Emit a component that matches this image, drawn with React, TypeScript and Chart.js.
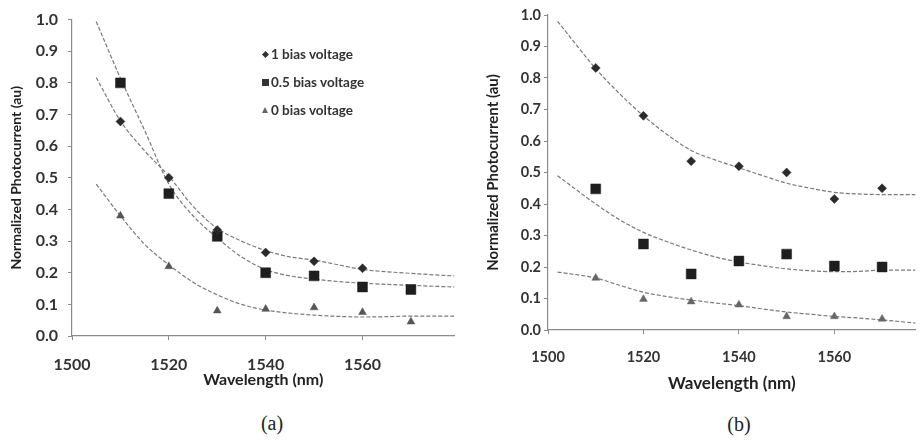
import React, { useEffect, useRef } from 'react';
import { Chart, registerables } from 'chart.js';

Chart.register(...registerables);

// ---------- data ----------
const wavelengths = [1510, 1520, 1530, 1540, 1550, 1560, 1570];

// panel (a) measured points
const aBias1 = [0.678, 0.5, 0.335, 0.264, 0.236, 0.214, null];
const aBias05 = [0.8, 0.45, 0.315, 0.2, 0.19, 0.155, 0.147];
const aBias0 = [0.38, 0.22, 0.08, 0.085, 0.09, 0.075, 0.045];

// panel (a) trend lines
const aFitX = [1505, 1510, 1515, 1520, 1525, 1530, 1535, 1540, 1545, 1550, 1555, 1560, 1565, 1570, 1575, 1579];
const aFit1 = [0.817, 0.68, 0.585, 0.505, 0.41, 0.34, 0.3, 0.27, 0.25, 0.24, 0.225, 0.21, 0.203, 0.198, 0.193, 0.19];
const aFit05 = [0.994, 0.815, 0.65, 0.48, 0.38, 0.31, 0.25, 0.21, 0.19, 0.18, 0.172, 0.167, 0.163, 0.16, 0.157, 0.155];
const aFit0 = [0.48, 0.38, 0.29, 0.225, 0.17, 0.13, 0.1, 0.082, 0.072, 0.066, 0.062, 0.06, 0.061, 0.063, 0.063, 0.063];

// panel (b) measured points
const bBias1 = [0.832, 0.68, 0.536, 0.52, 0.5, 0.416, 0.45];
const bBias05 = [0.448, 0.273, 0.178, 0.219, 0.241, 0.203, 0.2];
const bBias0 = [0.165, 0.098, 0.09, 0.08, 0.043, 0.043, 0.035];

// panel (b) trend lines
const bFitX = [1502, 1510, 1515, 1520, 1525, 1530, 1535, 1540, 1545, 1550, 1555, 1560, 1565, 1570, 1577];
const bFit1 = [0.98, 0.83, 0.75, 0.68, 0.62, 0.57, 0.54, 0.515, 0.49, 0.466, 0.45, 0.437, 0.432, 0.43, 0.43];
const bFit05 = [0.49, 0.4, 0.35, 0.31, 0.28, 0.254, 0.232, 0.216, 0.204, 0.194, 0.188, 0.185, 0.186, 0.19, 0.19];
const bFit0 = [0.184, 0.165, 0.142, 0.12, 0.106, 0.095, 0.086, 0.077, 0.067, 0.057, 0.05, 0.043, 0.038, 0.032, 0.022];

const legendLabels = ['1 bias voltage', '0.5 bias voltage', '0 bias voltage'];
const xTitle = 'Wavelength (nm)';
const yTitle = 'Normalized Photocurrent (au)';

// ---------- helpers ----------
const pts = (xs: number[], ys: (number | null)[]) =>
  xs.map((x, i) => ({ x, y: ys[i] })).filter((p) => p.y !== null);

const fitDs = (xs: number[], ys: number[]) => ({
  type: 'line' as const,
  data: pts(xs, ys),
  showLine: true,
  borderColor: '#7a7a7a',
  borderWidth: 1.2,
  borderDash: [4, 2],
  pointRadius: 0,
  cubicInterpolationMode: 'monotone' as const,
  fill: false,
  order: 2,
});

const markDs = (ys: (number | null)[], style: string, r: number, color: string) => ({
  type: 'scatter' as const,
  data: pts(wavelengths, ys),
  pointStyle: style,
  pointRadius: r,
  pointBackgroundColor: color,
  pointBorderColor: color,
  pointBorderWidth: 0.5,
  showLine: false,
  order: 1,
});

interface PanelProps {
  left: number;
  width: number;
  height: number;
  xMax: number;
  chartLeft: number;
  chartBottom: number;
  pad: { left: number; top: number; right: number; bottom: number };
  tickSize: number;
  yTickPad: number;
  xTickPad: number;
  xTitleSize: number;
  yTitleSize: number;
  datasets: any[];
}

function Panel(p: PanelProps) {
  const ref = useRef<HTMLCanvasElement | null>(null);
  useEffect(() => {
    if (!ref.current) return;
    const axisColor = '#8a8a8a';
    const chart = new Chart(ref.current, {
      type: 'scatter',
      data: { datasets: p.datasets },
      options: {
        responsive: false,
        animation: false,
        layout: { padding: p.pad },
        plugins: { legend: { display: false }, tooltip: { enabled: false } },
        scales: {
          x: {
            type: 'linear',
            min: 1500,
            max: p.xMax,
            afterFit: (s: any) => {
              s.height = p.height - p.pad.bottom - p.chartBottom;
            },
            ticks: {
              stepSize: 20,
              includeBounds: false,
              padding: p.xTickPad,
              color: '#333',
              font: { family: 'Lato', size: p.tickSize, weight: 'bold' },
              callback: (v: any) => String(v),
            },
            grid: { drawOnChartArea: false, drawTicks: true, tickLength: 4, color: axisColor },
            border: { color: axisColor, width: 1.2 },
            title: {
              display: true,
              text: xTitle,
              color: '#222',
              font: { family: 'Lato', size: p.xTitleSize, weight: 'bold' },
              padding: { top: 2, bottom: 4 },
            },
          },
          y: {
            type: 'linear',
            min: 0,
            max: 1,
            afterFit: (s: any) => {
              s.width = p.chartLeft - p.pad.left;
            },
            ticks: {
              stepSize: 0.1,
              padding: p.yTickPad,
              color: '#333',
              font: { family: 'Lato', size: p.tickSize, weight: 'bold' },
              callback: (v: any) => Number(v).toFixed(1),
            },
            grid: { drawOnChartArea: false, drawTicks: true, tickLength: 4, color: axisColor },
            border: { color: axisColor, width: 1.2 },
            title: {
              display: true,
              text: yTitle,
              color: '#222',
              font: { family: 'Lato', size: p.yTitleSize, weight: 'bold' },
              padding: { top: 4, bottom: 4 },
            },
          },
        },
      } as any,
    });
    return () => chart.destroy();
  }, []);
  return (
    <canvas
      ref={ref}
      width={p.width}
      height={p.height}
      style={{ position: 'absolute', left: p.left, top: 0, width: p.width, height: p.height }}
    />
  );
}

function Legend() {
  const rows = [54, 82, 110];
  return (
    <>
      {legendLabels.map((t, i) => (
        <div
          key={t}
          style={{
            position: 'absolute',
            left: 271,
            top: rows[i] - 9,
            fontFamily: 'Lato',
            fontWeight: 'bold',
            fontSize: 13.5,
            lineHeight: '18px',
            color: '#333',
            whiteSpace: 'nowrap',
          }}
        >
          {t}
        </div>
      ))}
      <div
        style={{
          position: 'absolute',
          left: 263,
          top: rows[0] - 2,
          width: 5,
          height: 5,
          background: '#333',
          transform: 'rotate(45deg)',
        }}
      />
      <div style={{ position: 'absolute', left: 262, top: rows[1] - 3, width: 7, height: 7, background: '#333' }} />
      <div
        style={{
          position: 'absolute',
          left: 262,
          top: rows[2] - 3,
          width: 0,
          height: 0,
          borderLeft: '3.5px solid transparent',
          borderRight: '3.5px solid transparent',
          borderBottom: '6px solid #666',
        }}
      />
    </>
  );
}

export default function App() {
  const aSets = [
    fitDs(aFitX, aFit1),
    fitDs(aFitX, aFit05),
    fitDs(aFitX, aFit0),
    markDs(aBias1, 'rectRot', 4.5, '#2a2a2a'),
    markDs(aBias05, 'rect', 7, '#1e1e1e'),
    markDs(aBias0, 'triangle', 4.5, '#555'),
  ];
  const bSets = [
    fitDs(bFitX, bFit1),
    fitDs(bFitX, bFit05),
    fitDs(bFitX, bFit0),
    markDs(bBias1, 'rectRot', 4.5, '#2a2a2a'),
    markDs(bBias05, 'rect', 7, '#1e1e1e'),
    markDs(bBias0, 'triangle', 4.5, '#666'),
  ];
  const caption: React.CSSProperties = {
    position: 'absolute',
    fontFamily: '"Liberation Serif", "DejaVu Serif", serif',
    fontSize: 20,
    color: '#222',
    transform: 'translate(-50%, -50%)',
    whiteSpace: 'nowrap',
  };
  return (
    <div style={{ position: 'absolute', left: 0, top: 0, width: 923, height: 440, background: '#fff', overflow: 'hidden' }}>
      <Panel
        left={0}
        width={462}
        height={400}
        xMax={1579}
        chartLeft={72}
        chartBottom={336}
        pad={{ left: 4, top: 18, right: 2, bottom: 7 }}
        tickSize={16}
        yTickPad={10}
        xTickPad={15}
        xTitleSize={16}
        yTitleSize={14}
        datasets={aSets}
      />
      <Panel
        left={462}
        width={461}
        height={400}
        xMax={1577}
        chartLeft={86}
        chartBottom={330}
        pad={{ left: 18, top: 15, right: 0, bottom: 2 }}
        tickSize={14.5}
        yTickPad={3}
        xTickPad={15}
        xTitleSize={17}
        yTitleSize={15}
        datasets={bSets}
      />
      <Legend />
      <div style={{ ...caption, left: 272, top: 423 }}>(a)</div>
      <div style={{ ...caption, left: 739, top: 424 }}>(b)</div>
    </div>
  );
}
